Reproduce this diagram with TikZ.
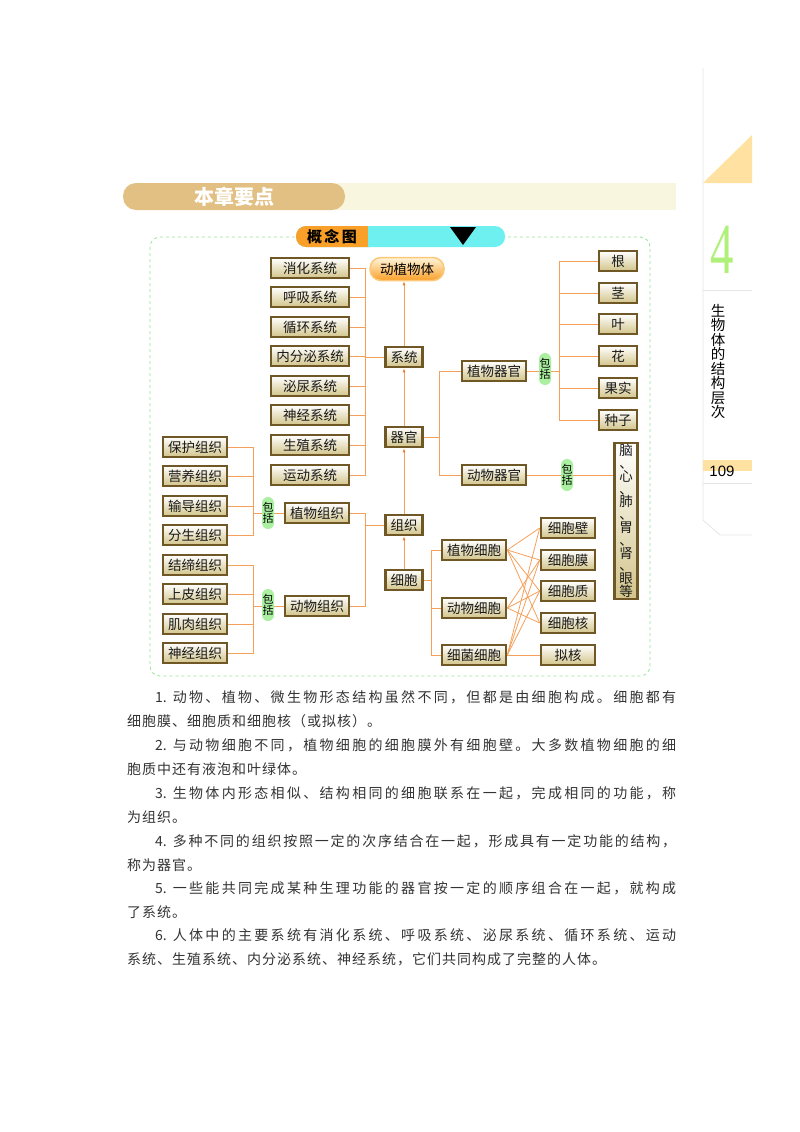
\documentclass[tikz,border=0pt]{standalone}
\usepackage{fontspec}
\setmainfont{Liberation Serif}
\newfontfamily\cjk{Noto Sans CJK SC}
\newfontfamily\lsans{Liberation Sans}
\definecolor{bx}{RGB}{112,88,38}
\definecolor{bxf}{RGB}{210,196,138}
\definecolor{con}{RGB}{245,160,90}
\definecolor{arr}{RGB}{235,130,50}
\definecolor{pillg}{RGB}{170,240,160}
\definecolor{tan}{RGB}{226,192,132}
\definecolor{cream}{RGB}{248,246,222}
\definecolor{peach}{RGB}{255,226,162}
\definecolor{cyanb}{RGB}{110,240,240}
\definecolor{orb}{RGB}{250,160,40}
\definecolor{frameg}{RGB}{150,228,150}
\makeatletter
\def\jl@loop#1{\ifx#1\relax\else#1\jlgap\expandafter\jl@loop\fi}
\newcommand\jspread[1]{\jl@loop#1\relax\unskip\unkern}
\makeatother
\def\jkern{\kern1pt}
\tikzset{
  box/.style={draw=bx, line width=2.6pt, top color=white, bottom color=bxf, minimum height=20pt, inner sep=0pt, font=\cjk\fontsize{13.5}{14}\selectfont, text=black!90},
  con/.style={draw=con, line width=0.8pt},
  upar/.style={draw=con, line width=0.9pt, -{Latex[length=4pt,width=3pt,color=arr]}},
  pill/.style={fill=pillg, rounded corners=6pt, minimum width=12pt, minimum height=32pt, inner sep=0pt, font=\cjk\fontsize{11}{11.5}\selectfont, align=center},
  body/.style={font=\cjk\fontsize{14}{14}\selectfont, text=black!80, inner sep=0pt, anchor=west},
}
\usetikzlibrary{arrows.meta}
\begin{document}
\begin{tikzpicture}[x=1pt,y=-1pt]
\useasboundingbox (0,0) rectangle (800,1132);
% header
\fill[cream] (200,183) rectangle (676,210);
\fill[tan, rounded corners=13pt] (123,183) rectangle (345,210);
\node[font=\cjk\bfseries\fontsize{20}{20}\selectfont, text=white] (hd) at (234,197) {本章要点};
% frame
\draw[frameg, dashed, line width=0.8pt, rounded corners=10pt] (150,237) rectangle (650,676);
\fill[cyanb, rounded corners=10pt] (296,226) rectangle (505,247);
\fill[orb, rounded corners=10pt] (296,226) rectangle (380,247);
\fill[cyanb] (368,226) rectangle (385,247);
\fill[black] (450,227) -- (476,227) -- (463,245) -- cycle;
\node[font=\cjk\bfseries\fontsize{15}{15}\selectfont] (gn) at (332,236.5) {概\,念\,图};
% side
\draw[black!10, line width=0.8pt] (703,68) -- (703,520) -- (720,535) -- (752,535);
\fill[peach] (703,183) -- (752,135) -- (752,183) -- cycle;
\node[font=\fontsize{72}{72}\selectfont, text={rgb,255:red,175;green,240;blue,120}, xscale=0.65] (four) at (722,250) {4};
\draw[black!10, line width=0.8pt] (703,290) -- (752,290);
\node[font=\cjk\fontsize{14.5}{14.5}\selectfont, align=center, anchor=north, inner sep=0pt] (vt) at (718,304) {生\\物\\体\\的\\结\\构\\层\\次};
\fill[peach] (703,460) rectangle (752,471);
\node[font=\lsans\fontsize{15}{15}\selectfont, inner sep=0pt] (pg) at (722,471) {109};
\draw[black!10, line width=0.8pt] (703,483) -- (752,483);
% systems
\foreach \n/\y/\t in {1/268/消化系统,2/297/呼吸系统,3/327/循环系统,4/356/内分泌系统,5/386/泌尿系统,6/415/神经系统,7/445/生殖系统,8/475/运动系统}
  \node[box, minimum width=78pt] (s\n) at (310,\y) {\t};
\node[box, minimum width=37pt] (xt) at (404,357) {系统};
\node[box, minimum width=37pt] (qg) at (404,437) {器官};
\node[box, minimum width=37pt] (zz) at (404,525) {组织};
\node[box, minimum width=37pt] (xb) at (404,580) {细胞};
\node[draw={rgb,255:red,250;green,200;blue,120}, line width=1.5pt, top color={rgb,255:red,255;green,245;blue,220}, bottom color=orb, rounded corners=11pt, minimum width=74pt, minimum height=23pt, inner sep=0pt, font=\cjk\fontsize{13.5}{14}\selectfont] (dz) at (407,269) {动植物体};
\coordinate (sb) at (365,357);
\foreach \n in {1,...,8} \draw[con] (s\n.east) -| (sb);
\draw[con] (sb) -- (xt.west);
\draw[upar] (xt.north) -- (xt.north |- dz.south);
\draw[upar] (qg.north) -- (xt.south);
\draw[upar] (zz.north) -- (qg.south);
\draw[upar] (xb.north) -- (zz.south);
% tissues
\foreach \n/\y/\t in {1/447/保护组织,2/476/营养组织,3/506/输导组织,4/535/分生组织,5/565/结缔组织,6/594/上皮组织,7/624/肌肉组织,8/653/神经组织}
  \node[box, minimum width=64pt] (t\n) at (195,\y) {\t};
\node[box, minimum width=64pt] (zw) at (317,513) {植物组织};
\node[box, minimum width=64pt] (dw) at (317,606) {动物组织};
\coordinate (pb) at (253,513);
\coordinate (ab) at (253,606);
\foreach \n in {1,...,4} \draw[con] (t\n.east) -| (pb);
\foreach \n in {5,...,8} \draw[con] (t\n.east) -| (ab);
\draw[con] (pb) -- (zw.west);
\draw[con] (ab) -- (dw.west);
\node[pill] (g1) at (268,513) {包\\括};
\node[pill] (g2) at (268,605) {包\\括};
\coordinate (zb) at (365,525);
\draw[con] (zw.east) -| (zb);
\draw[con] (dw.east) -| (zb);
\draw[con] (zb) -- (zz.west);
% organs
\node[box, minimum width=64pt] (zq) at (494,371) {植物器官};
\node[box, minimum width=64pt] (dq) at (494,475) {动物器官};
\coordinate (qb) at (439,437);
\draw[con] (qg.east) -- (qb);
\draw[con] (zq.west) -| (qb);
\draw[con] (dq.west) -| (qb);
\foreach \n/\y/\t in {1/261/根,2/293/茎,3/324/叶,4/356/花,5/388/果实,6/420/种子}
  \node[box, minimum width=38pt] (o\n) at (618,\y) {\t};
\coordinate (pob) at (559,371);
\foreach \n in {1,...,6} \draw[con] (o\n.west) -| (pob);
\node[box, minimum width=23pt, minimum height=156pt, text width=14pt, align=center, font=\cjk\fontsize{13.5}{12.8}\selectfont] (vb) at (626,521) {脑\\、\\心\\、\\肺\\、\\胃\\、\\肾\\、\\眼\\等};
\draw[con] (zq.east) -- (pob);
\draw[con] (dq.east) -- (dq.east -| vb.west);
\node[pill] (g3) at (545,369) {包\\括};
\node[pill] (g4) at (567,475) {包\\括};
% cells
\node[box, minimum width=64pt] (c1) at (474,550) {植物细胞};
\node[box, minimum width=64pt] (c2) at (474,608) {动物细胞};
\node[box, minimum width=64pt] (c3) at (474,655) {细菌细胞};
\coordinate (cb) at (431,580);
\draw[con] (xb.east) -- (cb);
\foreach \n in {1,2,3} \draw[con] (c\n.west) -| (cb);
\foreach \n/\y/\t in {1/528/细胞壁,2/560/细胞膜,3/591/细胞质,4/623/细胞核,5/655/拟核}
  \node[box, minimum width=54pt] (p\n) at (568,\y) {\t};
\foreach \a/\b in {1/1,1/2,1/3,1/4,2/2,2/3,2/4,3/1,3/2,3/3,3/5}
  \draw[con] (c\a.east) -- (p\b.west);
% body text
\node[body] (l1) at (127,697) {\hbox to 549pt{\let\jlgap\hfil\hskip28pt 1.\kern6pt\jspread{动物、植物、微生物形态结构虽然不同，但都是由细胞构成。细胞都有}}};
\node[body] (l2) at (127,721) {\hbox{\let\jlgap\jkern\jspread{细胞膜、细胞质和细胞核（或拟核）。}}};
\node[body] (l3) at (127,745) {\hbox to 549pt{\let\jlgap\hfil\hskip28pt 2.\kern6pt\jspread{与动物细胞不同，植物细胞的细胞膜外有细胞壁。大多数植物细胞的细}}};
\node[body] (l4) at (127,769) {\hbox{\let\jlgap\jkern\jspread{胞质中还有液泡和叶绿体。}}};
\node[body] (l5) at (127,793) {\hbox to 549pt{\let\jlgap\hfil\hskip28pt 3.\kern6pt\jspread{生物体内形态相似、结构相同的细胞联系在一起，完成相同的功能，称}}};
\node[body] (l6) at (127,817) {\hbox{\let\jlgap\jkern\jspread{为组织。}}};
\node[body] (l7) at (127,841) {\hbox to 549pt{\let\jlgap\hfil\hskip28pt 4.\kern6pt\jspread{多种不同的组织按照一定的次序结合在一起，形成具有一定功能的结构，}}};
\node[body] (l8) at (127,865) {\hbox{\let\jlgap\jkern\jspread{称为器官。}}};
\node[body] (l9) at (127,888) {\hbox to 549pt{\let\jlgap\hfil\hskip28pt 5.\kern6pt\jspread{一些能共同完成某种生理功能的器官按一定的顺序组合在一起，就构成}}};
\node[body] (l10) at (127,912) {\hbox{\let\jlgap\jkern\jspread{了系统。}}};
\node[body] (l11) at (127,935) {\hbox to 549pt{\let\jlgap\hfil\hskip28pt 6.\kern6pt\jspread{人体中的主要系统有消化系统、呼吸系统、泌尿系统、循环系统、运动}}};
\node[body] (l12) at (127,959) {\hbox{\let\jlgap\jkern\jspread{系统、生殖系统、内分泌系统、神经系统，它们共同构成了完整的人体。}}};
\end{tikzpicture}
\end{document}
